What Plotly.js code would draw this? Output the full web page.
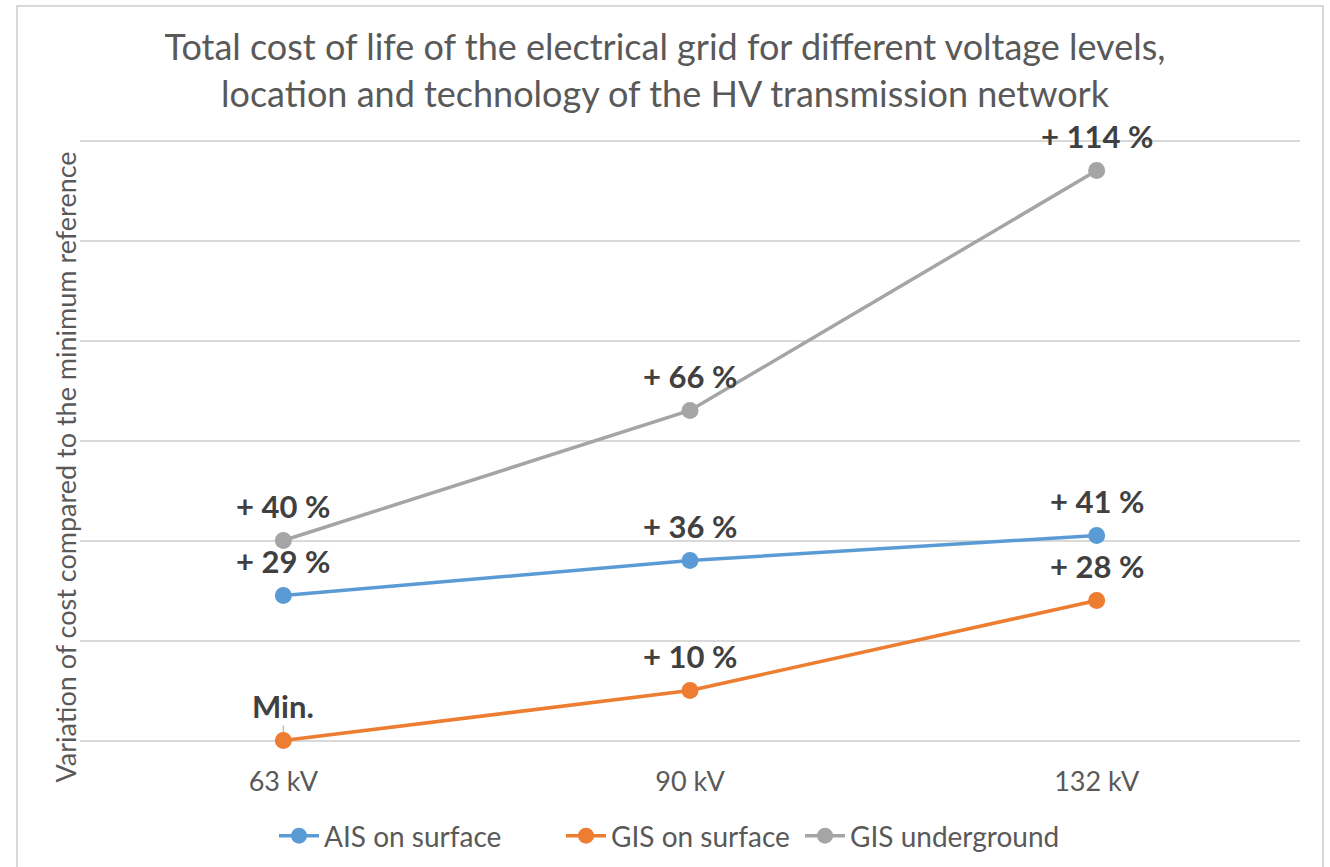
<!DOCTYPE html>
<html>
<head>
<meta charset="utf-8">
<script src="https://cdn.plot.ly/plotly-3.0.1.min.js"></script>
<style>
  html, body { margin:0; padding:0; background:#fff; overflow:hidden; }
  #chart { position:absolute; left:0; top:0; width:1330px; height:867px; }
  #frame { position:absolute; left:16px; top:5px; width:1304px; height:900px; border:2px solid #d9d9d9; pointer-events:none; }
</style>
</head>
<body>
<div id="chart"></div>
<div id="frame"></div>
<script>
const categories = ['63 kV', '90 kV', '132 kV'];
const aisSurface = [29, 36, 41];
const gisSurface = [0, 10, 28];
const gisUnderground = [40, 66, 114];
const aisLabels = ['+ 29 %', '+ 36 %', '+ 41 %'];
const gisSurfaceLabels = ['Min.', '+ 10 %', '+ 28 %'];
const gisUndergroundLabels = ['+ 40 %', '+ 66 %', '+ 114 %'];
const seriesNames = ['AIS on surface', 'GIS on surface', 'GIS underground'];
const colors = ['#5B9BD5', '#ED7D31', '#A5A5A5'];

const FONT = 'Lato, "Open Sans", sans-serif';
const labelFont = {family: FONT, size: 31, color: '#404040', weight: 'bold'};

function series(name, y, color, legendId, extra) {
  return Object.assign({
    type: 'scatter',
    mode: 'lines+markers',
    name: name,
    x: categories,
    y: y,
    legend: legendId,
    cliponaxis: false,
    line: {color: color, width: 3.5},
    marker: {color: color, size: 17},
    hoverinfo: 'x+y+name'
  }, extra || {});
}

const data = [
  series(seriesNames[0], aisSurface, colors[0], 'legend'),
  series(seriesNames[1], gisSurface, colors[1], 'legend2', {
    error_y: {type: 'data', symmetric: false, array: [3, 0, 0], arrayminus: [0, 0, 0],
              color: '#bfbfbf', thickness: 1.5, width: 0}
  }),
  series(seriesNames[2], gisUnderground, colors[2], 'legend3')
];

// data labels built from the series arrays
const annotations = [];
[[aisSurface, aisLabels], [gisSurface, gisSurfaceLabels], [gisUnderground, gisUndergroundLabels]]
  .forEach(([vals, labels]) => {
    vals.forEach((v, i) => {
      annotations.push({
        x: categories[i], y: v, xref: 'x', yref: 'y',
        text: labels[i], showarrow: false,
        xanchor: 'center', yanchor: 'middle',
        yshift: 35,
        font: labelFont
      });
    });
  });

annotations.push({
  text: 'Variation of cost compared to the minimum reference',
  xref: 'paper', yref: 'paper',
  x: (65 - 80) / 1220, y: (740.5 - 465) / 605,
  xanchor: 'center', yanchor: 'middle',
  textangle: -90,
  showarrow: false,
  font: {family: FONT, size: 27, color: '#595959'}
});

const legendBase = {
  orientation: 'h',
  xanchor: 'left',
  y: -93/605, yanchor: 'middle',
  font: {family: FONT, size: 28, color: '#595959'},
  itemwidth: 40,
  bgcolor: 'rgba(0,0,0,0)'
};
function legendAt(px) {
  return Object.assign({}, legendBase, {x: (px - 80) / 1220});
}

const layout = {
  width: 1330,
  height: 867,
  margin: {l: 80, r: 30, t: 138, b: 124, autoexpand: false},
  paper_bgcolor: '#ffffff',
  plot_bgcolor: '#ffffff',
  font: {family: FONT, color: '#595959'},
  title: {
    text: 'Total cost of life of the electrical grid for different voltage levels,<br>location and technology of the HV transmission network',
    font: {family: FONT, size: 36, color: '#595959'},
    x: 0.5, xanchor: 'center',
    y: 1 - 60/867, yanchor: 'middle', yref: 'container'
  },
  xaxis: {
    type: 'category',
    range: [-0.5, 2.5],
    showgrid: false,
    zeroline: false,
    showline: false,
    ticks: '',
    ticklabelstandoff: 20,
    tickfont: {family: FONT, size: 27, color: '#595959'},
    fixedrange: true
  },
  yaxis: {
    range: [-0.5, 120.5],
    dtick: 20,
    tick0: 0,
    showgrid: true,
    gridcolor: '#d9d9d9',
    gridwidth: 2,
    zeroline: false,
    showline: false,
    showticklabels: false,
    ticks: '',
    fixedrange: true
  },
  showlegend: true,
  legend: legendAt(274),
  legend2: legendAt(561),
  legend3: legendAt(800),
  annotations: annotations
};

Plotly.newPlot('chart', data, layout, {displayModeBar: false, staticPlot: true});
</script>
</body>
</html>
